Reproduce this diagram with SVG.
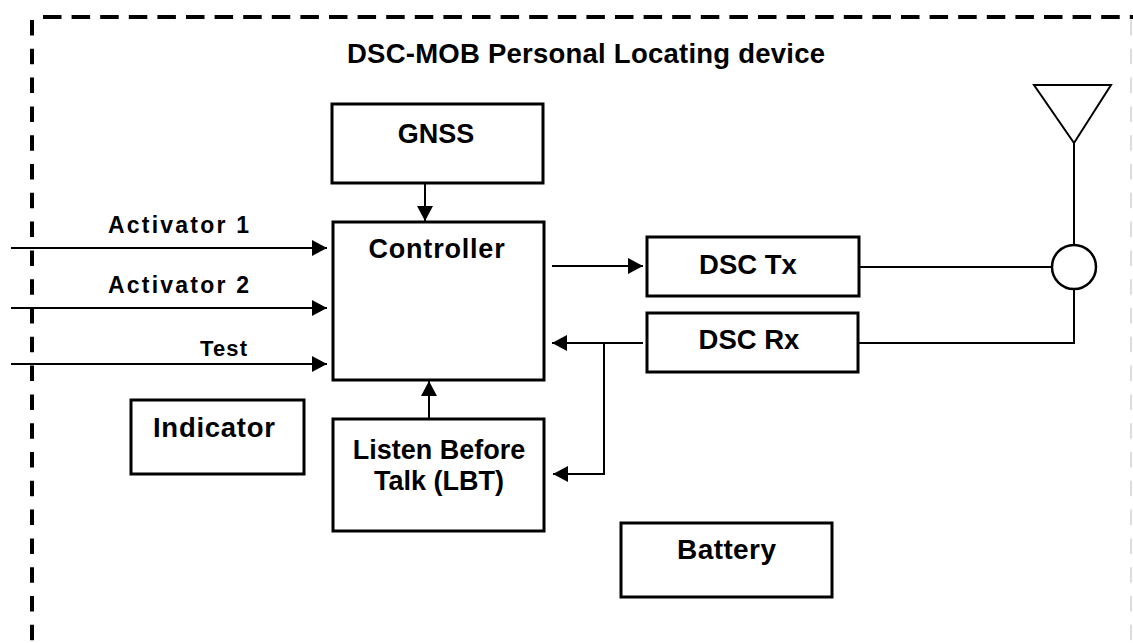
<svg xmlns="http://www.w3.org/2000/svg" width="1133" height="643" viewBox="0 0 1133 643">
<defs>
<style>
.box{fill:#fff;stroke:#000;stroke-width:3}
.t{font-family:"Liberation Sans",Arial,sans-serif;font-weight:bold;fill:#000}
.c{text-anchor:middle}
.ln{fill:none;stroke:#000;stroke-width:2}
.bd{fill:none;stroke:#000;stroke-width:4}
</style>
<marker id="ah" viewBox="0 0 15 16" refX="15" refY="8" markerWidth="15" markerHeight="16" markerUnits="userSpaceOnUse" orient="auto">
<path d="M0,0 L15,8 L0,16 Z" fill="#000"/>
</marker>
</defs>
<rect width="1133" height="643" fill="#fff"/>
<g id="border">
<line class="bd" x1="32" y1="20" x2="32" y2="643" stroke-dasharray="15.5 13.3"/>
<line class="bd" x1="43" y1="17" x2="1133" y2="17" stroke-dasharray="18.5 10.1"/>
<line x1="1131" y1="20" x2="1131" y2="643" stroke="#ddd" stroke-width="2" stroke-dasharray="15.5 13.3"/>
</g>
<text class="t" x="347" y="63" font-size="27.5" textLength="478">DSC-MOB Personal Locating device</text>
<g id="connectors">
<line class="ln" x1="11" y1="248" x2="327" y2="248" marker-end="url(#ah)"/>
<line class="ln" x1="11" y1="308" x2="327" y2="308" marker-end="url(#ah)"/>
<line class="ln" x1="11" y1="364" x2="327" y2="364" marker-end="url(#ah)"/>
<line class="ln" x1="425" y1="183" x2="425" y2="221" marker-end="url(#ah)"/>
<line class="ln" x1="429" y1="419" x2="429" y2="381" marker-end="url(#ah)"/>
<line class="ln" x1="552" y1="266" x2="643" y2="266" marker-end="url(#ah)"/>
<line class="ln" x1="643" y1="343" x2="552" y2="343" marker-end="url(#ah)"/>
<path class="ln" d="M604,343 V474 H553" marker-end="url(#ah)"/>
<line class="ln" x1="859" y1="267" x2="1052" y2="267"/>
<path class="ln" d="M858,343 H1074 V289"/>
<line class="ln" x1="1074" y1="143" x2="1074" y2="245"/>
<text class="t" x="108" y="233" font-size="23" textLength="141">Activator 1</text>
<text class="t" x="108" y="293" font-size="23" textLength="141">Activator 2</text>
<text class="t" x="200" y="356" font-size="22" textLength="47">Test</text>
</g>
<g id="gnss">
<rect class="box" x="332" y="104" width="211" height="79"/>
<text class="t c" x="436" y="143" font-size="27">GNSS</text>
</g>
<g id="controller">
<rect class="box" x="333" y="222" width="211" height="158"/>
<text class="t c" x="437" y="258" font-size="27" letter-spacing="0.8">Controller</text>
</g>
<g id="dsc-tx">
<rect class="box" x="647" y="237" width="212" height="59"/>
<text class="t c" x="748" y="274" font-size="27.5">DSC Tx</text>
</g>
<g id="dsc-rx">
<rect class="box" x="647" y="313" width="211" height="59"/>
<text class="t c" x="749" y="349" font-size="27.5">DSC Rx</text>
</g>
<g id="lbt">
<rect class="box" x="333" y="419" width="211" height="112"/>
<text class="t c" x="439" y="459" font-size="27">Listen Before</text>
<text class="t c" x="439" y="490" font-size="27">Talk (LBT)</text>
</g>
<g id="indicator">
<rect class="box" x="131" y="400" width="173" height="74"/>
<text class="t" x="153" y="437" font-size="27.5" textLength="122">Indicator</text>
</g>
<g id="battery">
<rect class="box" x="621" y="523" width="211" height="74"/>
<text class="t" x="677" y="559" font-size="28" textLength="99">Battery</text>
</g>
<g id="antenna">
<polygon points="1034,85 1111,85 1074,143" fill="none" stroke="#000" stroke-width="2"/>
<circle cx="1074" cy="267" r="22" fill="#fff" stroke="#000" stroke-width="2.5"/>
</g>
</svg>
